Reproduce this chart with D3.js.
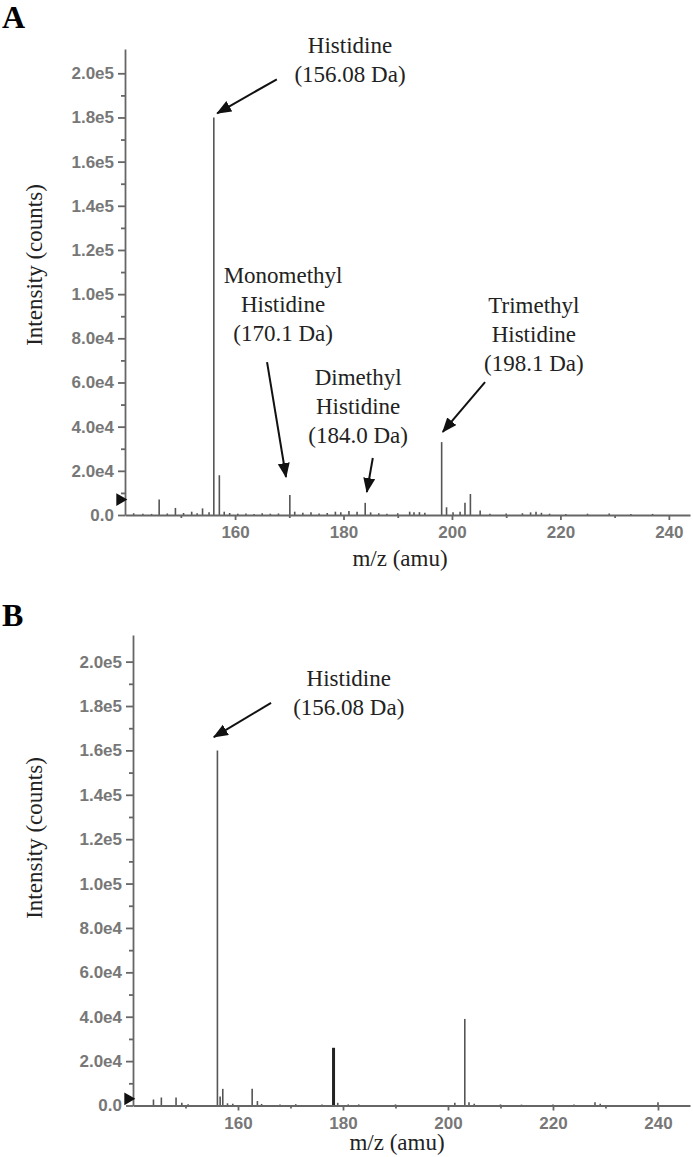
<!DOCTYPE html>
<html>
<head>
<meta charset="utf-8">
<script src="https://cdn.jsdelivr.net/npm/d3@7/dist/d3.min.js"></script>
<style>
  body { margin: 0; background: #fff; }
  .tick text { font-family: "Liberation Sans", Arial, sans-serif; font-size: 17px; font-weight: bold; fill: #777; }
  .serif { font-family: "Liberation Serif", "Times New Roman", serif; fill: #222; }
</style>
</head>
<body>
<div id="chart"></div>
<script>
'use strict';

// panel A : m/z and intensity (counts)
var mzA  = [141.3, 143, 144.6, 146, 147.5, 149, 150.5, 152, 153, 154, 155.2, 156.08, 157.1, 158, 159,
            160.5, 162, 163.5, 165, 166.5, 168, 170.1, 171, 172.5, 174, 175.5, 177, 178.5, 179.5, 181,
            182.5, 184.0, 185, 186.5, 188, 190, 192.2, 193, 194, 195, 198.1, 199, 200.2, 201.5, 202.4,
            203.4, 205.2, 207, 210, 213, 214.5, 215.5, 216.5, 218, 221, 225, 229, 233, 237];
var intA = [800, 600, 500, 7000, 700, 3200, 900, 1500, 800, 3000, 1200, 180000, 18000, 1500, 900,
            600, 700, 500, 800, 600, 700, 9000, 1500, 1000, 1200, 700, 900, 1500, 1200, 1800,
            1500, 5500, 1200, 800, 600, 800, 1500, 1200, 1300, 1000, 33000, 3500, 1200, 1500, 5500,
            9500, 2000, 600, 700, 800, 1200, 1500, 1000, 600, 500, 600, 700, 400, 500];

// panel B
var mzB  = [143.9, 145.4, 148.2, 149.3, 150.5, 156.08, 156.6, 157.1, 158, 159, 162.7, 163.7, 164.5,
            168, 171, 176, 178.2, 179, 181, 183, 190, 201.3, 203.2, 204, 205, 210, 214, 220, 224,
            228, 229, 240];
var intB = [2700, 3600, 3600, 1200, 600, 160000, 4000, 7500, 1000, 800, 7500, 2000, 700,
            500, 600, 500, 26000, 1200, 500, 500, 500, 1200, 39000, 1500, 800, 500, 400, 500, 400,
            1500, 800, 1500];

var yTicks = d3.range(0, 200001, 20000);
var yMinor = d3.range(10000, 200001, 20000);
var xTicks = [160, 180, 200, 220, 240];
var xMinor = [150, 170, 190, 210, 230];

// annotations: text lines, text anchor (m/z, counts), arrow tail and tip (m/z, counts)
var labelsA = [["Histidine", "(156.08 Da)"],
               ["Monomethyl", "Histidine", "(170.1 Da)"],
               ["Dimethyl", "Histidine", "(184.0 Da)"],
               ["Trimethyl", "Histidine", "(198.1 Da)"]];
var textAtA = [[181.2, 209000], [168.85, 105000], [182.7, 58800], [215.1, 91400]];
var tailA   = [[167.7, 197300], [165.9, 69200], [185.4, 25800], [206.1, 60200]];
var tipA    = [[156.7, 181900], [169.4, 17200], [184.3, 10400], [198.3, 37600]];

var labelsB = [["Histidine", "(156.08 Da)"]];
var textAtB = [[181.1, 189100]];
var tailB   = [[166.3, 181400]];
var tipB    = [[155.4, 166000]];

var svg = d3.select("#chart").append("svg")
    .attr("width", 693)
    .attr("height", 1157);

svg.append("defs").append("marker")
    .attr("id", "head")
    .attr("markerUnits", "userSpaceOnUse")
    .attr("markerWidth", 16).attr("markerHeight", 14)
    .attr("refX", 14).attr("refY", 6)
    .attr("orient", "auto")
    .append("path")
    .attr("d", "M0,0 L15,6 L0,12 Z")
    .attr("fill", "#111");

function fmt(d) {
    if (d === 0) return "0.0";
    return d3.format(".1e")(d).replace("e+", "e");
}

function drawPanel(p) {
    var x = d3.scaleLinear().domain(p.xDomain).range([p.left, p.right]);
    var y = d3.scaleLinear().domain([0, p.yMax]).range([p.base, p.top]);
    var g = svg.append("g");

    // peaks
    g.selectAll(".peak")
        .data(d3.zip(p.mz, p.counts))
        .enter().append("line")
        .attr("class", "peak")
        .attr("x1", function(d) { return x(d[0]); })
        .attr("x2", function(d) { return x(d[0]); })
        .attr("y1", y(0))
        .attr("y2", function(d) { return y(d[1]); })
        .attr("stroke", function(d) { return p.thick.indexOf(d[0]) >= 0 ? "#222" : "#555"; })
        .attr("stroke-width", function(d) { return p.thick.indexOf(d[0]) >= 0 ? 3 : 1.6; });

    // y axis
    var ya = g.append("g")
        .attr("transform", "translate(" + p.left + ",0)")
        .call(d3.axisLeft(y).tickValues(yTicks).tickFormat(fmt).tickSize(7).tickSizeOuter(0).tickPadding(4));
    g.append("g")
        .attr("transform", "translate(" + p.left + ",0)")
        .call(d3.axisLeft(y).tickValues(yMinor).tickFormat("").tickSize(4).tickSizeOuter(0))
        .select(".domain").remove();

    // x axis
    var xa = g.append("g")
        .attr("transform", "translate(0," + p.base + ")")
        .call(d3.axisBottom(x).tickValues(xTicks).tickSize(5).tickSizeOuter(0).tickPadding(6));
    g.append("g")
        .attr("transform", "translate(0," + p.base + ")")
        .call(d3.axisBottom(x).tickValues(xMinor).tickFormat("").tickSize(3).tickSizeOuter(0))
        .select(".domain").remove();

    g.selectAll(".domain, .tick line").attr("stroke", "#666").attr("stroke-width", 1.8);

    // small black marker on the y axis
    g.append("path")
        .attr("d", d3.symbol(d3.symbolTriangle, 70)())
        .attr("transform", "translate(" + (p.left - 5) + "," + y(p.marker) + ") rotate(90)")
        .attr("fill", "#111");

    // axis titles
    g.append("text").attr("class", "serif")
        .attr("transform", "translate(42," + p.yLabelY + ") rotate(-90)")
        .attr("text-anchor", "middle")
        .style("font-size", "23px")
        .text("Intensity (counts)");
    g.append("text").attr("class", "serif")
        .attr("x", p.xLabelX).attr("y", p.xLabelY)
        .attr("text-anchor", "middle")
        .style("font-size", "23px")
        .text("m/z (amu)");

    // panel letter
    g.append("text").attr("class", "serif")
        .attr("x", 2).attr("y", p.letterY)
        .style("font-size", "32px").style("font-weight", "bold")
        .style("fill", "#000")
        .text(p.letter);

    // annotations
    p.labels.forEach(function(lines, i) {
        var t = g.append("text").attr("class", "serif")
            .attr("text-anchor", "middle")
            .style("font-size", "23px");
        lines.forEach(function(s, j) {
            t.append("tspan")
                .attr("x", x(p.textAt[i][0]))
                .attr("y", y(p.textAt[i][1]) + j * 29)
                .text(s);
        });
        g.append("line")
            .attr("x1", x(p.tail[i][0])).attr("y1", y(p.tail[i][1]))
            .attr("x2", x(p.tip[i][0])).attr("y2", y(p.tip[i][1]))
            .attr("stroke", "#111").attr("stroke-width", 2)
            .attr("marker-end", "url(#head)");
    });
}

drawPanel({
    letter: "A", letterY: 28,
    mz: mzA, counts: intA, thick: [],
    xDomain: [139.7, 243.9], left: 125, right: 690,
    yMax: 211000, base: 515, top: 49,
    marker: 7000,
    yLabelY: 265, xLabelX: 400, xLabelY: 566,
    labels: labelsA, textAt: textAtA, tail: tailA, tip: tipA
});

drawPanel({
    letter: "B", letterY: 626,
    mz: mzB, counts: intB, thick: [178.2],
    xDomain: [140, 246.1], left: 133, right: 690,
    yMax: 212000, base: 1105.5, top: 635,
    marker: 3000,
    yLabelY: 838, xLabelX: 397, xLabelY: 1150,
    labels: labelsB, textAt: textAtB, tail: tailB, tip: tipB
});
</script>
</body>
</html>
